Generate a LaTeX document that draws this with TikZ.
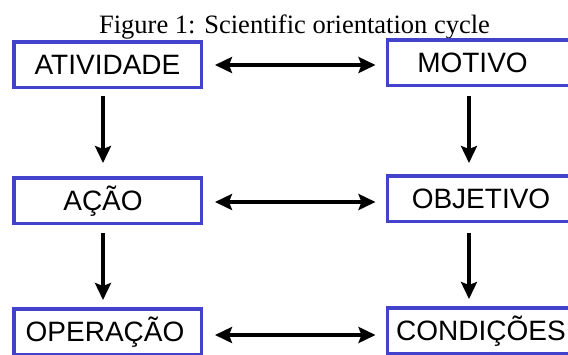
\documentclass[tikz,border=0pt]{standalone}
\usepackage{fontspec}
\setmainfont{Liberation Serif}
\newfontfamily\boxfont{Liberation Sans}
\usetikzlibrary{arrows.meta,calc}
\definecolor{boxblue}{RGB}{66,66,204}
\begin{document}
\begin{tikzpicture}[x=1pt,y=-1pt,
  box/.style={draw=boxblue,line width=3.5pt,minimum width=187.5pt,minimum height=45.5pt,
    inner sep=0pt,text height=20pt,text depth=0pt,font=\boxfont\fontsize{28}{30}\selectfont,text=black},
  tip/.tip={Stealth[length=17pt,width=16pt,inset=3pt]},
  arr/.style={line width=3.5pt,-tip},
  dbl/.style={line width=3.5pt,tip-tip}]
\useasboundingbox (0,0) rectangle (568,354);
\clip (0,0) rectangle (568,354);
\node[anchor=base,font=\fontsize{26.5}{30}\selectfont] (title) at (294.5,33) {Figure 1: Scientific orientation cycle};
\node[box] (ativ) at (107.5,64.5) {ATIVIDADE};
\node[box] (mot) at (481,62.5) {MOTIVO\kern17pt};
\node[box] (acao) at (107.5,200.5) {AÇÃO\kern9pt};
\node[box] (obj) at (481,198.5) {OBJETIVO};
\node[box] (oper) at (107.5,331.5) {OPERAÇÃO\kern5pt};
\node[box] (cond) at (481,330.5) {CONDIÇÕES};
% horizontal
\draw[dbl] ($(ativ.east)+(12,0.5)$) -- ($(ativ.east -| mot.west)+(-10,0.5)$);
\draw[dbl] ($(acao.east)+(12,1.5)$) -- ($(acao.east -| obj.west)+(-10,1.5)$);
\draw[dbl] ($(oper.east)+(12,3.5)$) -- ($(oper.east -| cond.west)+(-10,3.5)$);
% vertical
\draw[arr] ($(ativ.south)+(-4.5,7)$) -- ($(acao.north)+(-4.5,-13)$);
\draw[arr] ($(acao.south)+(-4.5,8)$) -- ($(oper.north)+(-4.5,-7)$);
\draw[arr] ($(mot.south)+(-12,9)$) -- ($(obj.north)+(-12,-11)$);
\draw[arr] ($(obj.south)+(-12,10)$) -- ($(cond.north)+(-12,-7)$);
\end{tikzpicture}
\end{document}
